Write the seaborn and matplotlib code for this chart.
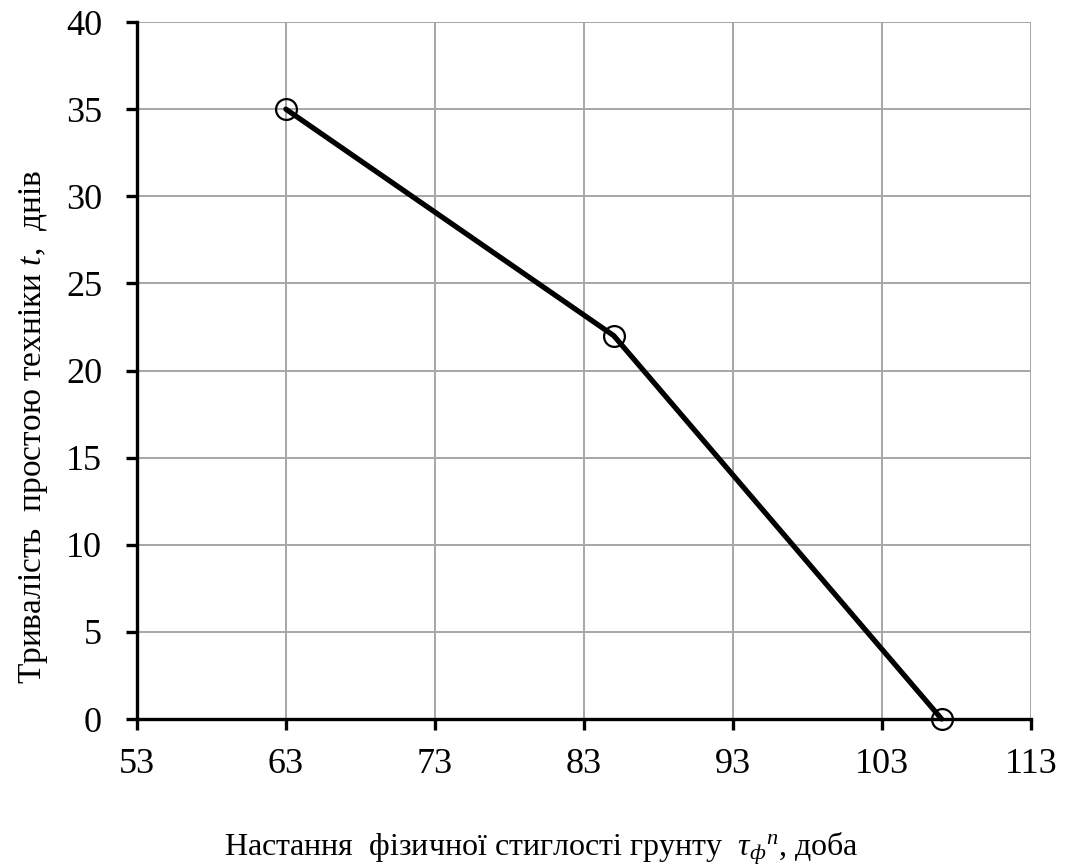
import matplotlib
matplotlib.use("Agg")
import matplotlib.pyplot as plt
import seaborn as sns
import pandas as pd

x_vals = [63, 85, 107]
y_vals = [35, 22, 0]
x_ticks = [53, 63, 73, 83, 93, 103, 113]
y_ticks = [0, 5, 10, 15, 20, 25, 30, 35, 40]

sns.set_theme(style="white")
plt.rcParams['font.family'] = ['Liberation Serif', 'DejaVu Serif']
plt.rcParams['mathtext.fontset'] = 'custom'
plt.rcParams['mathtext.rm'] = 'Liberation Serif'
plt.rcParams['mathtext.it'] = 'Liberation Serif:italic'

df = pd.DataFrame({"x": x_vals, "y": y_vals})

fig = plt.figure(figsize=(10.69, 8.67), dpi=100)
ax = fig.add_axes([0.128, 0.1707, 0.8365, 0.8039])

ax.grid(True, color="#a6a6a6", linewidth=1.4)
ax.set_axisbelow(True)

sns.lineplot(data=df, x="x", y="y", ax=ax, color="black", linewidth=3.8,
             marker="o", markersize=15, markerfacecolor="none",
             markeredgecolor="black", markeredgewidth=1.6, zorder=3, clip_on=False)

ax.set_xlim(53, 113)
ax.set_ylim(0, 40)
ax.set_xticks(x_ticks)
ax.set_yticks(y_ticks)

for s in ["top", "right"]:
    ax.spines[s].set_visible(False)
for s in ["left", "bottom"]:
    ax.spines[s].set_color("black")
    ax.spines[s].set_linewidth(2.4)
    ax.spines[s].set_zorder(2)

ax.tick_params(axis="both", direction="out", length=8, width=2.4, color="black",
               labelsize=26, labelcolor="black", bottom=True, left=True)
ax.tick_params(axis="x", pad=13)
ax.tick_params(axis="y", pad=17)

ax.set_xlabel(r"Настання  фізичної стиглості грунту  $\tau_{ф}{}^{n}$, доба",
              fontsize=23, color="black")
ax.set_ylabel(r"Тривалість  простою техніки $t$,  днів", fontsize=24,
              color="black")
ax.xaxis.set_label_coords(0.452, -0.16)
ax.yaxis.set_label_coords(-0.097, 0.419)

fig.savefig("out.png", dpi=100, facecolor="white")
